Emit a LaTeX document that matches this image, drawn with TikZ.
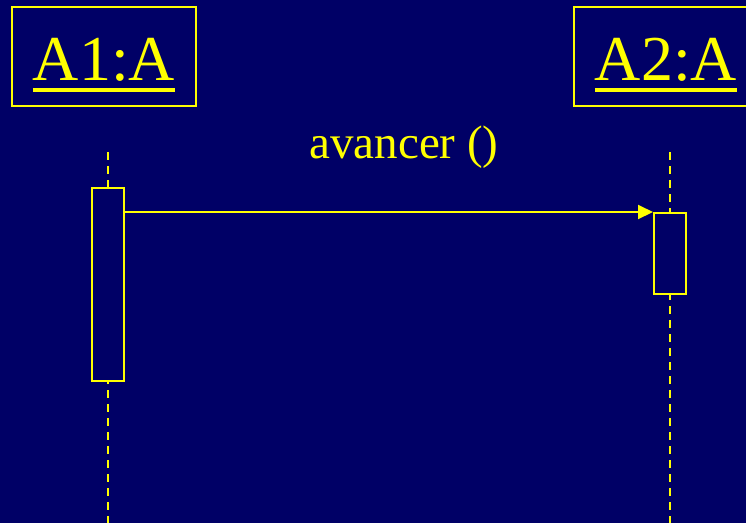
\documentclass[tikz,border=0pt]{standalone}
\usepackage{fontspec}
\setmainfont{Liberation Serif}
\usepackage{tikz}
\usetikzlibrary{arrows.meta,positioning}
\definecolor{slidebg}{HTML}{000066}
\definecolor{umlyellow}{HTML}{FFFF00}
\newcommand\objname[1]{\setbox0\hbox{#1}\rlap{\rule[-12pt]{\wd0}{4pt}}\box0}
\tikzset{objbox/.style={draw=umlyellow,line width=2pt,minimum width=184pt,minimum height=99pt,inner sep=0pt},
  objtext/.style={text=umlyellow,font=\fontsize{64}{70}\selectfont,inner sep=0pt,anchor=base},
  lifeline/.style={draw=umlyellow,line width=2pt,dash pattern=on 8pt off 6pt},
  actbox/.style={draw=umlyellow,line width=2pt,fill=slidebg,minimum width=32pt,inner sep=0pt},
  msg/.style={-{Triangle[length=15pt,width=14pt]},draw=umlyellow,line width=2pt}}

\begin{document}
\begin{tikzpicture}[x=1pt,y=-1pt]
\useasboundingbox (0,0) rectangle (746,523);
\clip (0,0) rectangle (746,523);
\fill[slidebg] (0,0) rectangle (746,523);
% objects
\node[objbox] (boxA1) at (104,56.5) {};
\node[objbox] (boxA2) at (666,56.5) {};
\node[objtext] (nameA1) at (104,80) {\objname{A1:A}};
\node[objtext] (nameA2) at (666,80) {\objname{A2:A}};
% lifelines
\coordinate (topA1) at (108,152);
\coordinate (botA1) at (108,523);
\coordinate (topA2) at (670,152);
\coordinate (botA2) at (670,523);
\draw[lifeline] (topA1) -- (botA1);
\draw[lifeline] (topA2) -- (botA2);
% activations
\node[actbox,minimum height=193pt] (actA1) at (108,284.5) {};
\node[actbox,minimum height=81pt] (actA2) at (670,253.5) {};
% message
\draw[msg] (actA1.east |- actA2.north) -- (actA2.north west);
\node[text=umlyellow,font=\fontsize{47}{52}\selectfont,inner sep=0pt,anchor=base] (lblmsg) at (404,158) {avancer ()};
\end{tikzpicture}
\end{document}
